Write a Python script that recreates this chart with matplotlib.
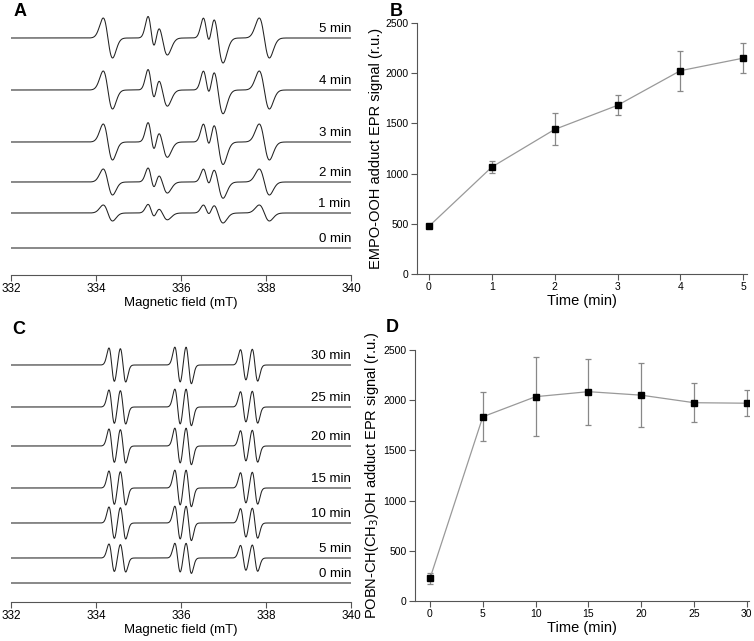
import numpy as np
import matplotlib
matplotlib.use('Agg')
import matplotlib.pyplot as plt

plt.rcParams['font.family'] = ['Liberation Sans', 'DejaVu Sans']

# ---------------- data ----------------
# Panel A: EMPO-OOH spectra (line parameters)
a_labels = ['5 min', '4 min', '3 min', '2 min', '1 min', '0 min']
a_gain = [20, 19, 18, 13, 8, 0]              # signal size of each trace
a_centers = [334.28, 335.30, 335.56, 336.60, 336.87, 337.96]
a_halfpp = [0.11, 0.08, 0.12, 0.08, 0.12, 0.12]
a_amps = [1.0, 1.0, 0.85, 0.9, 1.25, 1.0]

# Panel C: POBN-CH(CH3)OH spectra
c_labels = ['30 min', '25 min', '20 min', '15 min', '10 min', '5 min', '0 min']
c_gain = [17, 17, 17, 17, 16, 14, 0]
c_centers = [334.37, 334.635, 335.92, 336.18, 337.465, 337.74]
c_halfpp = [0.065, 0.065, 0.065, 0.065, 0.065, 0.065]
c_amps = [1.0, 1.0, 1.05, 1.1, 0.9, 0.95]

# Panel B
b_time = [0, 1, 2, 3, 4, 5]
b_signal = [475, 1065, 1440, 1680, 2025, 2150]
b_err = [15, 60, 160, 100, 200, 150]

# Panel D
d_time = [0, 5, 10, 15, 20, 25, 30]
d_signal = [225, 1835, 2035, 2085, 2050, 1975, 1970]
d_err = [55, 245, 395, 330, 320, 195, 130]

# ---------------- layout ----------------
W, H = 754, 641
fig = plt.figure(figsize=(W / 100, H / 100), dpi=100)

def fx(px):
    return px / W

def fy(py):
    return 1 - py / H

field = np.linspace(332, 340, 1600)

def spectrum(centers, halfpp, amps):
    y = np.zeros_like(field)
    for c, s, a in zip(centers, halfpp, amps):
        u = (field - c) / s
        y += a * (-u) * np.exp(0.5 * (1 - u ** 2))
    return y

def spectra_panel(rect, top_px, bottom_px, baselines_px, labels, gains,
                  centers, halfpp, amps):
    ax = fig.add_axes(rect)
    shape = spectrum(centers, halfpp, amps)
    for base, lab, g in zip(baselines_px, labels, gains):
        ax.plot(field, -base + g * shape, color='#222222', lw=0.75)
        ax.text(340, -base + 9, lab, ha='right', va='center', fontsize=9.5)
    ax.set_xlim(332, 340)
    ax.set_ylim(-bottom_px, -top_px)
    for sp in ['left', 'top', 'right']:
        ax.spines[sp].set_visible(False)
    ax.spines['bottom'].set_color('#555555')
    ax.set_yticks([])
    ax.set_xticks([332, 334, 336, 338, 340])
    ax.tick_params(axis='x', direction='out', length=4, color='#555555',
                   labelsize=8.5, pad=2)
    ax.set_xlabel('Magnetic field (mT)', fontsize=9.5, labelpad=1)
    return ax

# Panel A
a_base = [38, 90, 142, 182, 213, 248]
spectra_panel([fx(11), fy(275), fx(351) - fx(11), fy(5) - fy(275)],
              5, 275, a_base, a_labels, a_gain, a_centers, a_halfpp, a_amps)

# Panel C
c_base = [365, 407, 446, 488, 523, 558, 583]
spectra_panel([fx(11), fy(602), fx(351) - fx(11), fy(325) - fy(602)],
              325, 602, c_base, c_labels, c_gain, c_centers, c_halfpp, c_amps)

def time_panel(rect, t, s, e, xlim, xticks, ylabel):
    ax = fig.add_axes(rect)
    ax.errorbar(t, s, yerr=e, fmt='none', ecolor='#888888', elinewidth=0.9,
                capsize=2.5, capthick=0.9, zorder=2)
    ax.plot(t, s, color='#999999', lw=0.9, zorder=3)
    ax.plot(t, s, ls='none', marker='s', ms=5, color='black', zorder=4)
    ax.set_xlim(*xlim)
    ax.set_ylim(0, 2500)
    ax.set_xticks(xticks)
    ax.set_yticks([0, 500, 1000, 1500, 2000, 2500])
    for sp in ['top', 'right']:
        ax.spines[sp].set_visible(False)
    for sp in ['left', 'bottom']:
        ax.spines[sp].set_color('#555555')
    ax.tick_params(direction='out', length=4, color='#555555', labelsize=7.5, pad=2)
    ax.set_xlabel('Time (min)', fontsize=10.5, labelpad=1)
    ax.set_ylabel(ylabel, fontsize=10.5, labelpad=2)
    return ax

time_panel([fx(417), fy(274), fx(747) - fx(417), fy(23) - fy(274)],
           b_time, b_signal, b_err, (-0.19, 5.06), b_time,
           'EMPO-OOH adduct EPR signal (r.u.)')

time_panel([fx(415), fy(601), fx(749) - fx(415), fy(350) - fy(601)],
           d_time, d_signal, d_err, (-1.42, 30.2), d_time,
           'POBN-CH(CH$_3$)OH adduct EPR signal (r.u.)')

# Panel letters
for lab, x, y in [('A', 20, 11), ('B', 396, 11), ('C', 19, 330), ('D', 392, 327)]:
    fig.text(fx(x), fy(y), lab, fontsize=13, fontweight='bold',
             ha='center', va='center')

fig.savefig('out.png', dpi=100)
